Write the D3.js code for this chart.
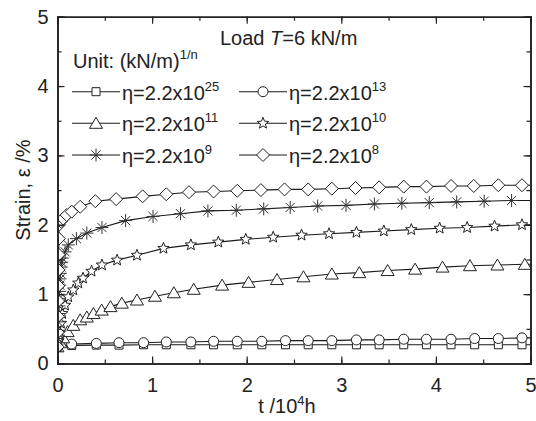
<!DOCTYPE html>
<html lang="en">
<head>
<meta charset="UTF-8">
<title>Strain</title>
<style>
  body { margin: 0; background: #fff; }
  text { font-family: "Liberation Sans", Arial, sans-serif; fill: #222; }
</style>
</head>
<body>
<script src="https://d3js.org/d3.v7.min.js"></script>
<script>
// data: t in 10^4 h, strain in %
var tSq  = [0, 0.15, 0.41, 0.65, 0.91, 1.15, 1.41, 1.65, 1.90, 2.16, 2.41, 2.65, 2.90, 3.16, 3.40, 3.66, 3.90, 4.16, 4.41, 4.66, 4.91, 5.0];
var sSq  = [0.24, 0.26, 0.265, 0.265, 0.27, 0.27, 0.27, 0.27, 0.27, 0.27, 0.27, 0.27, 0.27, 0.27, 0.27, 0.27, 0.27, 0.27, 0.27, 0.27, 0.27, 0.27];
var tCi  = tSq;
var sCi  = [0.24, 0.28, 0.29, 0.30, 0.30, 0.31, 0.31, 0.32, 0.32, 0.32, 0.33, 0.33, 0.33, 0.34, 0.34, 0.35, 0.35, 0.35, 0.36, 0.36, 0.37, 0.37];
var tTri = [0, 0.03, 0.06, 0.107, 0.167, 0.24, 0.31, 0.38, 0.467, 0.56, 0.68, 0.84, 1.03, 1.23, 1.44, 1.74, 2.02, 2.32, 2.60, 2.90, 3.19, 3.49, 3.78, 4.07, 4.36, 4.65, 4.94, 5.0];
var sTri = [0.24, 0.30, 0.37, 0.46, 0.55, 0.63, 0.67, 0.72, 0.77, 0.82, 0.87, 0.915, 0.97, 1.02, 1.07, 1.13, 1.17, 1.21, 1.25, 1.29, 1.31, 1.34, 1.36, 1.39, 1.41, 1.42, 1.43, 1.43];
var tSt  = [0, 0.008, 0.015, 0.025, 0.037, 0.05, 0.08, 0.114, 0.167, 0.22, 0.27, 0.36, 0.47, 0.63, 0.84, 1.12, 1.41, 1.70, 1.99, 2.28, 2.58, 2.87, 3.16, 3.45, 3.74, 4.04, 4.33, 4.62, 4.91, 5.0];
var sSt  = [0.24, 0.32, 0.38, 0.44, 0.58, 0.72, 0.84, 0.96, 1.06, 1.16, 1.23, 1.33, 1.42, 1.49, 1.56, 1.66, 1.71, 1.75, 1.79, 1.82, 1.85, 1.87, 1.89, 1.91, 1.93, 1.95, 1.96, 1.98, 2.0, 2.0];
var tAs  = [0, 0.003, 0.006, 0.009, 0.012, 0.015, 0.018, 0.021, 0.024, 0.027, 0.031, 0.037, 0.044, 0.05, 0.08, 0.114, 0.20, 0.31, 0.47, 0.72, 1.01, 1.30, 1.59, 1.89, 2.18, 2.46, 2.75, 3.05, 3.35, 3.64, 3.93, 4.22, 4.51, 4.80, 5.0];
var sAs  = [0.24, 0.36, 0.48, 0.60, 0.72, 0.83, 0.94, 1.04, 1.13, 1.22, 1.30, 1.39, 1.46, 1.52, 1.61, 1.71, 1.80, 1.88, 1.96, 2.06, 2.12, 2.16, 2.20, 2.21, 2.23, 2.25, 2.27, 2.28, 2.30, 2.31, 2.32, 2.33, 2.34, 2.35, 2.35];
var tDi  = [0, 0.002, 0.004, 0.006, 0.008, 0.010, 0.012, 0.014, 0.016, 0.035, 0.06, 0.097, 0.15, 0.24, 0.40, 0.62, 0.90, 1.15, 1.39, 1.65, 1.90, 2.15, 2.40, 2.65, 2.90, 3.15, 3.40, 3.66, 3.90, 4.16, 4.40, 4.66, 4.91, 5.0];
var sDi  = [0.24, 0.45, 0.68, 0.90, 1.12, 1.35, 1.57, 1.80, 2.00, 2.05, 2.09, 2.14, 2.19, 2.26, 2.34, 2.37, 2.41, 2.44, 2.47, 2.48, 2.49, 2.50, 2.51, 2.51, 2.52, 2.53, 2.54, 2.55, 2.55, 2.56, 2.56, 2.57, 2.57, 2.57];

var names   = ["25", "13", "11", "10", "9", "8"];
var symbols = ["square", "circle", "triangle", "star", "asterisk", "diamond"];
var tSets   = [tSq, tCi, tTri, tSt, tAs, tDi];
var sSets   = [sSq, sCi, sTri, sSt, sAs, sDi];
var xTicks  = [0, 1, 2, 3, 4, 5];
var yTicks  = [0, 1, 2, 3, 4, 5];

var W = 536, H = 421;
var pL = 57.5, pR = 530.5, pT = 16.7, pB = 363.5;

var svg = d3.select("body").append("svg").attr("width", W).attr("height", H);

var x = d3.scaleLinear().domain([0, 5]).range([pL, pR]);
var y = d3.scaleLinear().domain([0, 5]).range([pB, pT]);

// marker shapes
function markerPath(type) {
    var p = d3.path();
    if (type == "square") {
        p.rect(-4, -4, 8, 8);
    } else if (type == "circle") {
        p.moveTo(5, 0);
        p.arc(0, 0, 5, 0, 2 * Math.PI);
    } else if (type == "triangle") {
        p.moveTo(0, -6); p.lineTo(6.5, 5); p.lineTo(-6.5, 5); p.closePath();
    } else if (type == "diamond") {
        p.moveTo(0, -6.5); p.lineTo(6.5, 0); p.lineTo(0, 6.5); p.lineTo(-6.5, 0); p.closePath();
    } else if (type == "star") {
        for (var k = 0; k < 10; k++) {
            var r = k % 2 == 0 ? 6 : 2.6;
            var a = -Math.PI / 2 + k * Math.PI / 5;
            if (k == 0) p.moveTo(r * Math.cos(a), r * Math.sin(a));
            else p.lineTo(r * Math.cos(a), r * Math.sin(a));
        }
        p.closePath();
    } else if (type == "asterisk") {
        for (var k = 0; k < 4; k++) {
            var a = k * Math.PI / 4;
            p.moveTo(-6.5 * Math.cos(a), -6.5 * Math.sin(a));
            p.lineTo(6.5 * Math.cos(a), 6.5 * Math.sin(a));
        }
    }
    return p.toString();
}

function drawMarker(g, type, cx, cy) {
    g.append("path")
        .attr("d", markerPath(type))
        .attr("transform", "translate(" + cx + "," + cy + ")")
        .attr("fill", type == "asterisk" ? "none" : "#fff")
        .attr("stroke", type == "asterisk" ? "#333" : "#222")
        .attr("stroke-width", 1);
}

svg.append("clipPath").attr("id", "clip")
    .append("rect").attr("x", pL).attr("y", pT)
    .attr("width", pR - pL).attr("height", pB - pT);

var plot = svg.append("g").attr("clip-path", "url(#clip)");
var line = d3.line().x(function (d) { return x(d[0]); }).y(function (d) { return y(d[1]); });

tSets.forEach(function (ts, i) {
    var pts = ts.map(function (t, j) { return [t, sSets[i][j]]; });
    plot.append("path").datum(pts)
        .attr("d", line)
        .attr("fill", "none")
        .attr("stroke", "#1a1a1a")
        .attr("stroke-width", 1.1);
});
tSets.forEach(function (ts, i) {
    ts.forEach(function (t, j) {
        if (t < 5) drawMarker(plot, symbols[i], x(t), y(sSets[i][j]));
    });
});

// axes, ticks inward on all four sides
var fmt = d3.format("d");
var xMinor = d3.range(0, 5.01, 0.5);
var yMinor = d3.range(0, 5.01, 0.5);

svg.append("g").attr("transform", "translate(0," + pB + ")")
    .call(d3.axisBottom(x).tickValues(xMinor).tickSize(-4).tickFormat(""));
svg.append("g").attr("transform", "translate(0," + pB + ")")
    .call(d3.axisBottom(x).tickValues(xTicks).tickSize(-7).tickPadding(14).tickFormat(fmt));
svg.append("g").attr("transform", "translate(0," + pT + ")")
    .call(d3.axisTop(x).tickValues(xMinor).tickSize(-4).tickFormat(""));
svg.append("g").attr("transform", "translate(0," + pT + ")")
    .call(d3.axisTop(x).tickValues(xTicks).tickSize(-7).tickFormat(""));

svg.append("g").attr("transform", "translate(" + pL + ",0)")
    .call(d3.axisLeft(y).tickValues(yMinor).tickSize(-4).tickFormat(""));
svg.append("g").attr("transform", "translate(" + pL + ",0)")
    .call(d3.axisLeft(y).tickValues(yTicks).tickSize(-7).tickPadding(9).tickFormat(fmt));
svg.append("g").attr("transform", "translate(" + pR + ",0)")
    .call(d3.axisRight(y).tickValues(yMinor).tickSize(-4).tickFormat(""));
svg.append("g").attr("transform", "translate(" + pR + ",0)")
    .call(d3.axisRight(y).tickValues(yTicks).tickSize(-7).tickFormat(""));

svg.selectAll(".domain").attr("stroke", "#222").attr("stroke-width", 1.6);
svg.selectAll(".tick line").attr("stroke", "#222").attr("stroke-width", 1.2);
svg.selectAll(".tick text").attr("font-size", 20).attr("fill", "#222")
    .attr("font-family", "Liberation Sans, Arial, sans-serif");

// axis titles
svg.append("text")
    .attr("transform", "translate(30," + ((pT + pB) / 2) + ") rotate(-90)")
    .attr("text-anchor", "middle").attr("font-size", 20)
    .text("Strain, ε /%");

var xt = svg.append("text").attr("x", 287).attr("y", 413)
    .attr("text-anchor", "middle").attr("font-size", 20);
xt.append("tspan").text("t /10");
xt.append("tspan").attr("dy", -8).attr("font-size", 13).text("4");
xt.append("tspan").attr("dy", 8).text("h");

// annotation
var load = svg.append("text").attr("x", 220).attr("y", 45).attr("font-size", 20);
load.append("tspan").text("Load ");
load.append("tspan").attr("font-style", "italic").text("T");
load.append("tspan").text("=6 kN/m");

var unit = svg.append("text").attr("x", 73).attr("y", 68).attr("font-size", 20);
unit.append("tspan").text("Unit: (kN/m)");
unit.append("tspan").attr("dy", -9).attr("font-size", 13).text("1/n");

// legend
var legend = svg.append("g");
var rowY = [91.7, 123.3, 155];
var colX = [72, 239];
names.forEach(function (n, i) {
    var cx = colX[i % 2], cy = rowY[Math.floor(i / 2)];
    legend.append("line")
        .attr("x1", cx).attr("x2", cx + 48).attr("y1", cy).attr("y2", cy)
        .attr("stroke", "#1a1a1a").attr("stroke-width", 1.1);
    drawMarker(legend, symbols[i], cx + 24, cy);
    var tx = legend.append("text").attr("x", cx + 50).attr("y", cy + 8).attr("font-size", 20);
    tx.append("tspan").text("η=2.2x10");
    tx.append("tspan").attr("dy", -9).attr("font-size", 13).text(n);
});
</script>
</body>
</html>
